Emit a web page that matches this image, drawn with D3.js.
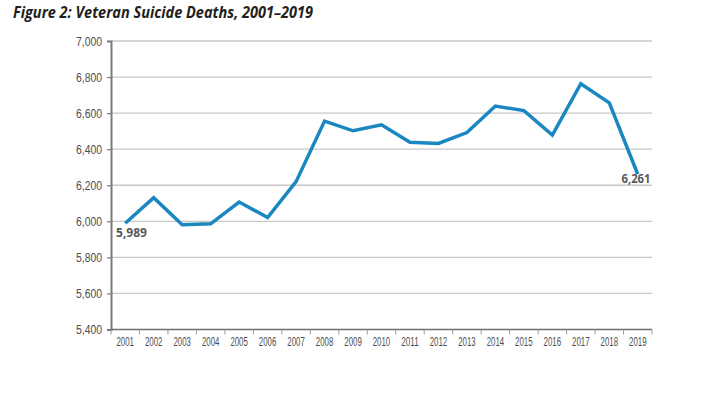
<!DOCTYPE html>
<html>
<head>
<meta charset="utf-8">
<script src="https://cdn.jsdelivr.net/npm/d3@7"></script>
<style>
  body { margin: 0; background: #fff; }
  svg { display: block; }
</style>
</head>
<body>
<svg id="chart" width="708" height="394"></svg>
<script>
// data
const years = ['2001','2002','2003','2004','2005','2006','2007','2008','2009','2010',
               '2011','2012','2013','2014','2015','2016','2017','2018','2019']
const deaths = [5989, 6131, 5981, 5986, 6107, 6021, 6220, 6556, 6502, 6535,
                6439, 6432, 6492, 6639, 6614, 6478, 6763, 6657, 6261]
const yTicks = [5400, 5600, 5800, 6000, 6200, 6400, 6600, 6800, 7000]
const labelled = ['2001', '2019']

const title = 'Figure 2: Veteran Suicide Deaths, 2001\u20132019'

const svg = d3.select('#chart')
const m = {left: 111, right: 652, top: 41, bottom: 329.5}

const x = d3.scaleBand()
    .domain(years)
    .range([m.left, m.right])

const y = d3.scaleLinear()
    .domain([5400, 7000])
    .range([m.bottom, m.top])

const tickFont = '"Liberation Sans Narrow", "Arial Narrow", sans-serif'

svg.append('text')
    .attr('x', 13)
    .attr('y', 18)
    .attr('font-family', '"Open Sans", sans-serif')
    .attr('font-weight', 'bold')
    .attr('font-style', 'italic')
    .attr('font-size', 16.5)
    .attr('fill', '#231f20')
    .attr('textLength', 300)
    .attr('lengthAdjust', 'spacingAndGlyphs')
    .text(title)

// gridlines
svg.append('g')
    .selectAll('line')
    .data(yTicks.slice(1))
    .join('line')
    .attr('x1', m.left)
    .attr('x2', m.right)
    .attr('y1', d => y(d))
    .attr('y2', d => y(d))
    .attr('stroke', '#c8c8c8')
    .attr('stroke-width', 1.3)

// y axis
let yAxis = svg.append('g')
    .attr('transform', `translate(${m.left},0)`)
    .call(d3.axisLeft(y).tickValues(yTicks).tickFormat(d3.format(',')).tickSize(4).tickPadding(5))
yAxis.select('.domain').attr('stroke', '#7a7a7a').attr('stroke-width', 2)
yAxis.selectAll('.tick line').attr('stroke', '#7a7a7a').attr('stroke-width', 1.2)
yAxis.selectAll('text')
    .attr('font-family', tickFont)
    .attr('font-size', 12.5)
    .attr('fill', '#4d4d4f')
    .attr('textLength', 26)
    .attr('lengthAdjust', 'spacingAndGlyphs')

// x axis, ticks on band edges
let xAxis = svg.append('g')
    .attr('transform', `translate(0,${m.bottom})`)
xAxis.append('line')
    .attr('x1', m.left - 1)
    .attr('x2', m.right)
    .attr('stroke', '#6d6e71')
    .attr('stroke-width', 1.6)
xAxis.selectAll('line.edge')
    .data(years.concat(['end']))
    .join('line')
    .attr('class', 'edge')
    .attr('x1', d => d === 'end' ? m.right : x(d))
    .attr('x2', d => d === 'end' ? m.right : x(d))
    .attr('y1', 0)
    .attr('y2', 5)
    .attr('stroke', '#9a9a9a')
    .attr('stroke-width', 1)
xAxis.selectAll('text')
    .data(years)
    .join('text')
    .attr('x', d => x(d) + x.bandwidth() / 2)
    .attr('y', 16)
    .attr('text-anchor', 'middle')
    .attr('font-family', tickFont)
    .attr('font-size', 12)
    .attr('fill', '#4d4d4f')
    .attr('textLength', 17.5)
    .attr('lengthAdjust', 'spacingAndGlyphs')
    .text(d => d)

// the line
const pts = years.map((yr, i) => ({year: yr, value: deaths[i]}))
const line = d3.line()
    .x(d => x(d.year) + x.bandwidth() / 2)
    .y(d => y(d.value))

svg.append('path')
    .datum(pts)
    .attr('d', line)
    .attr('fill', 'none')
    .attr('stroke', '#1b87c1')
    .attr('stroke-width', 3.5)
    .attr('stroke-linejoin', 'miter')

// end labels
svg.append('g')
    .selectAll('text')
    .data(pts.filter(d => labelled.includes(d.year)))
    .join('text')
    .attr('x', d => d.year === '2001' ? x(d.year) + 5 : x(d.year) + x.bandwidth() - 1.5)
    .attr('y', d => y(d.value) + (d.year === '2001' ? 13.5 : 9))
    .attr('text-anchor', d => d.year === '2001' ? 'start' : 'end')
    .attr('font-family', '"Open Sans", sans-serif')
    .attr('font-weight', 'bold')
    .attr('font-size', 11.5)
    .attr('fill', '#58595b')
    .attr('textLength', d => d.year === '2001' ? 31 : 29)
    .attr('lengthAdjust', 'spacingAndGlyphs')
    .text(d => d3.format(',')(d.value))
</script>
</body>
</html>
